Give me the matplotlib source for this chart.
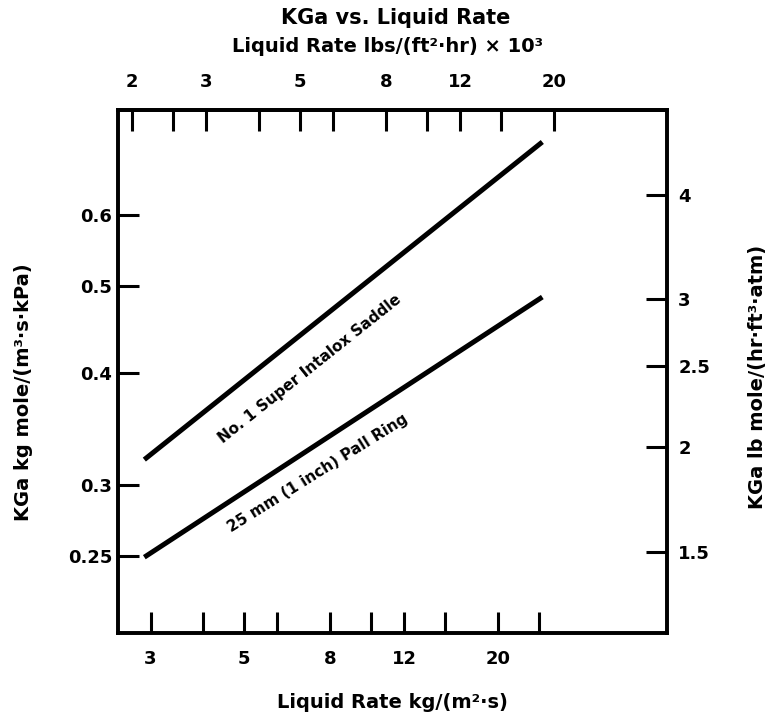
"""KGa vs liquid rate chart, log-log with unit-converted twin axes"""

import matplotlib
matplotlib.use('Agg')
import matplotlib.pyplot as plt
from matplotlib.ticker import NullLocator

plt.rcParams['font.family'] = ['DejaVu Sans']
plt.rcParams['font.weight'] = 'bold'

# liquid rate, kg/(m2 s) and KGa, kg mole/(m3 s kPa)
rate_range = [2.9, 25.5]
kga_saddle = [0.320, 0.724]
kga_pall = [0.249, 0.486]

bottom_ticks = [3, 4, 5, 6, 8, 10, 12, 15, 20, 25]
bottom_labels = ['3', '', '5', '', '8', '', '12', '', '20', '']
top_ticks = [2, 2.5, 3, 4, 5, 6, 8, 10, 12, 15, 20]
top_labels = ['2', '', '3', '', '5', '', '8', '', '12', '', '20']
left_ticks = [0.25, 0.3, 0.4, 0.5, 0.6]
left_labels = ['0.25', '0.3', '0.4', '0.5', '0.6']
right_ticks = [1.5, 2, 2.5, 3, 4]
right_labels = ['1.5', '2', '2.5', '3', '4']

LB_PER_KG = 0.7373  # kg/(m2 s) -> lbs/(ft2 hr) x 10^3

fig = plt.figure(figsize=(7.75, 7.2), dpi=100)
ax = fig.add_axes([0.1523, 0.1208, 0.7084, 0.7264])

ax.plot(rate_range, kga_saddle, color='black', lw=3.6, solid_capstyle='butt')
ax.plot(rate_range, kga_pall, color='black', lw=3.6, solid_capstyle='butt')

ax.set_xscale('log')
ax.set_yscale('log')
ax.set_xlim(2.512, 50.4)
ax.set_ylim(0.2049, 0.786)

tick_kw = dict(direction='in', length=15, width=2.2, labelsize=13)
ax.set_xticks(bottom_ticks, labels=bottom_labels)
ax.set_yticks(left_ticks, labels=left_labels)
ax.xaxis.set_minor_locator(NullLocator())
ax.yaxis.set_minor_locator(NullLocator())
ax.tick_params(axis='x', pad=12, **tick_kw)
ax.tick_params(axis='y', pad=4, **tick_kw)

top = ax.secondary_xaxis(
    'top', functions=(lambda x: x * LB_PER_KG, lambda x: x / LB_PER_KG))
top.set_xticks(top_ticks, labels=top_labels)
top.xaxis.set_minor_locator(NullLocator())
top.tick_params(axis='x', pad=14, **tick_kw)

right = ax.twinx()
right.set_yscale('log')
right.set_ylim(1.199, 5.05)
right.set_yticks(right_ticks, labels=right_labels)
right.yaxis.set_minor_locator(NullLocator())
right.tick_params(axis='y', pad=8, **tick_kw)

for a in (ax, right):
    for s in a.spines.values():
        s.set_linewidth(2.6)
top.spines['top'].set_linewidth(2.6)

ax.text(7.17, 0.404, 'No. 1 Super Intalox Saddle', rotation=38.5,
        ha='center', va='center', fontsize=11, rotation_mode='anchor')
ax.text(7.49, 0.309, '25 mm (1 inch) Pall Ring', rotation=32,
        ha='center', va='center', fontsize=11, rotation_mode='anchor')

fig.text(0.51, 0.975, 'KGa vs. Liquid Rate', ha='center', va='center',
         fontsize=15)
fig.text(0.50, 0.936, 'Liquid Rate lbs/(ft\u00b2\u00b7hr) \u00d7 10\u00b3',
         ha='center', va='center', fontsize=14)
fig.text(0.507, 0.025, 'Liquid Rate kg/(m\u00b2\u00b7s)', ha='center',
         va='center', fontsize=14)
fig.text(0.03, 0.455, 'KGa kg mole/(m\u00b3\u00b7s\u00b7kPa)', rotation=90,
         ha='center', va='center', fontsize=14)
fig.text(0.978, 0.476, 'KGa lb mole/(hr\u00b7ft\u00b3\u00b7atm)', rotation=90,
         ha='center', va='center', fontsize=14)

fig.savefig('out.png', dpi=100)
